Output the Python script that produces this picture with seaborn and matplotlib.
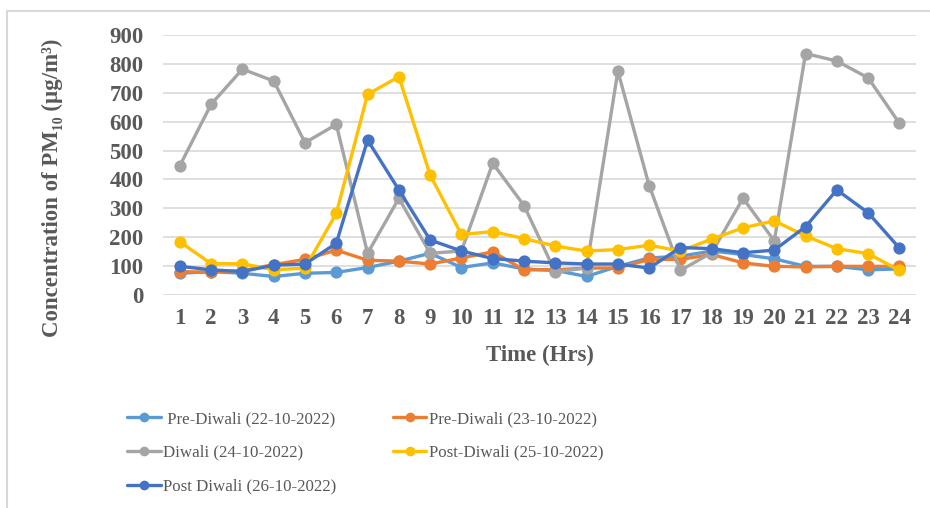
import numpy as np
import pandas as pd
import matplotlib
matplotlib.use("Agg")
import matplotlib.pyplot as plt
from matplotlib.lines import Line2D
import seaborn as sns

hours = list(range(1, 25))
pre_diwali_22 = [76, 82, 76, 65, 76, 79, 96, 118, 145, 96, 112, 91, 86, 65, 100, 129, 135, 153, 141, 126, 100, 100, 88, 91]
pre_diwali_23 = [82, 79, 85, 106, 124, 156, 121, 118, 108, 129, 150, 88, 88, 94, 94, 124, 124, 141, 112, 100, 98, 100, 100, 100]
diwali_24 = [448, 660, 781, 740, 527, 590, 145, 335, 145, 153, 456, 310, 80, 95, 774, 379, 86, 147, 335, 188, 835, 809, 751, 594]
post_diwali_25 = [185, 109, 109, 88, 94, 283, 694, 755, 415, 210, 220, 196, 170, 153, 158, 173, 153, 194, 233, 257, 205, 161, 144, 86]
post_diwali_26 = [100, 88, 82, 104, 108, 180, 536, 364, 191, 153, 127, 118, 112, 108, 108, 94, 165, 161, 147, 156, 237, 364, 285, 163]

series_names = [" Pre-Diwali (22-10-2022)", "Pre-Diwali (23-10-2022)", "Diwali (24-10-2022)",
                "Post-Diwali (25-10-2022)", "Post Diwali (26-10-2022)"]
series_values = [pre_diwali_22, pre_diwali_23, diwali_24, post_diwali_25, post_diwali_26]
colors = ["#5B9BD5", "#ED7D31", "#A5A5A5", "#FFC000", "#4472C4"]
y_ticks = [0, 100, 200, 300, 400, 500, 600, 700, 800, 900]

df = pd.concat([pd.DataFrame({"Hour": hours, "Value": v, "Series": n})
                for n, v in zip(series_names, series_values)], ignore_index=True)

sns.set_style("white")
plt.rcParams["font.family"] = ["Liberation Serif", "DejaVu Serif"]

W, H = 930, 508
fig = plt.figure(figsize=(W / 100, H / 100), dpi=100)
ax_l, ax_r, ax_t, ax_b = 163, 916, 34.7, 295.3
ax = fig.add_axes([ax_l / W, 1 - ax_b / H, (ax_r - ax_l) / W, (ax_b - ax_t) / H])

sns.lineplot(data=df, x="Hour", y="Value", hue="Series", hue_order=series_names,
             palette=colors, marker="o", markersize=8.8, markeredgewidth=0,
             linewidth=2.4, ax=ax, legend=True)
for ln in ax.lines:
    ln.set_clip_on(False)

ax.set_xlim(0.46, 24.53)
ax.set_ylim(0, 900)
ax.set_yticks(y_ticks)
ax.set_xticks(hours)
ax.grid(axis="y", color="#d9d9d9", linewidth=1.2)
ax.grid(axis="x", visible=False)
ax.set_axisbelow(True)
for s in ax.spines.values():
    s.set_visible(False)

tick_col = "#595959"
ax.tick_params(axis="y", length=0, pad=14, labelsize=16.5, labelcolor=tick_col)
ax.tick_params(axis="x", length=0, pad=9, labelsize=16.5, labelcolor=tick_col)
for lab in ax.get_xticklabels() + ax.get_yticklabels():
    lab.set_fontweight("bold")

ax.set_xlabel("Time (Hrs)", fontsize=16.5, fontweight="bold", color=tick_col)
ax.xaxis.label.set_va("center")
ax.xaxis.set_label_coords(0.5, -(355 - ax_b) / (ax_b - ax_t))
ax.set_ylabel("Concentration of PM\u2081\u2080 (\u00b5g/m\u00b3)", fontsize=16.5,
              fontweight="bold", color=tick_col)
ax.yaxis.label.set_va("center")
ax.yaxis.set_label_coords((52 - ax_l) / (ax_r - ax_l), (ax_b - 187.5) / (ax_b - ax_t))

handles, labels = ax.get_legend_handles_labels()
ax.get_legend().remove()
order = [0, 2, 4, 1, 3]
leg = fig.legend([handles[i] for i in order], [labels[i] for i in order],
                 loc="upper left", bbox_to_anchor=(127 / W, 1 - 411 / H), ncol=2,
                 frameon=False, fontsize=12.2, handlelength=2.0, handletextpad=0.15,
                 columnspacing=3.3, labelspacing=1.05, borderpad=0, borderaxespad=0)
for t in leg.get_texts():
    t.set_color(tick_col)
for h in leg.legend_handles:
    h.set_markersize(7)
    h.set_linewidth(2.4)

fig.add_artist(Line2D([7 / W, 1], [1 - 11 / H, 1 - 11 / H], transform=fig.transFigure,
                      color="#d9d9d9", linewidth=1.5))
fig.add_artist(Line2D([7 / W, 7 / W], [0, 1 - 11 / H], transform=fig.transFigure,
                      color="#d9d9d9", linewidth=1.5))

fig.savefig("out.png", dpi=100, facecolor="white")
